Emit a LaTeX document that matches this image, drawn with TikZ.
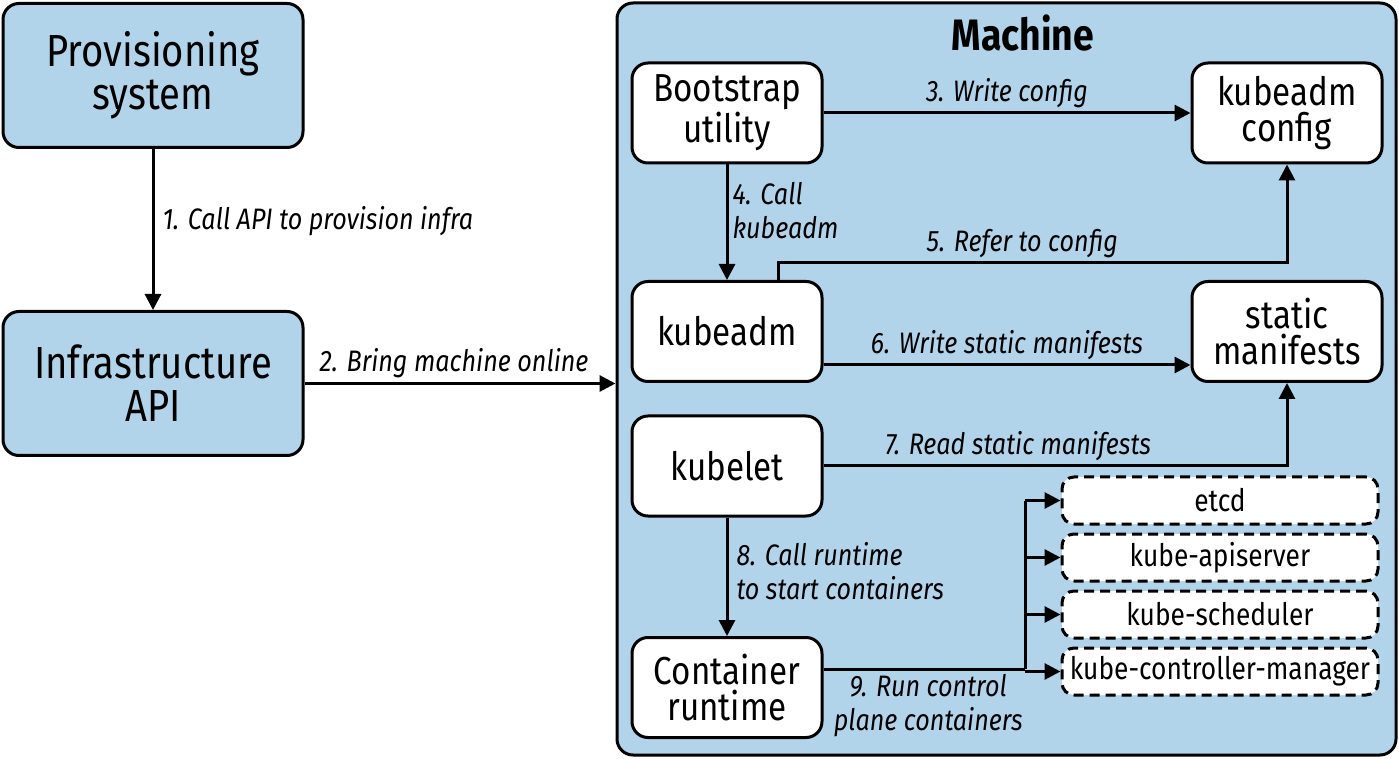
\documentclass[tikz,border=0pt]{standalone}
\usepackage{fontspec}
\setmainfont{Fira Sans}[FakeStretch=0.85]
\usepackage{xcolor}
\usepackage{tikz}
\usetikzlibrary{arrows.meta,positioning,calc}
\definecolor{mach}{HTML}{B2D4EA}
\definecolor{ink}{HTML}{000000}

\begin{document}
\begin{tikzpicture}[x=0.5pt,y=-0.5pt,
  box/.style={draw=ink,line width=1.5pt,rounded corners=8pt,align=center,inner sep=0pt},
  bigbox/.style={box,fill=mach,minimum width=150pt,minimum height=72pt,font=\fontsize{22.5}{21.5}\selectfont},
  midbox/.style={box,fill=white,minimum width=95pt,minimum height=50pt,font=\fontsize{19.5}{18}\selectfont},
  podbox/.style={box,fill=white,dashed,dash pattern=on 5pt off 3pt,rounded corners=6pt,
    minimum width=158pt,minimum height=23.5pt,font=\fontsize{15.5}{16}\selectfont},
  conn/.style={draw=ink,line width=1.5pt},
  arr/.style={conn,-{Triangle[length=8pt,width=8pt]}},
  lbl/.style={font=\itshape\fontsize{14.8}{17}\selectfont,align=left,inner sep=2pt}]
\useasboundingbox (0,0) rectangle (1399,759);
% LEFT
\node[bigbox] (prov) at (153,75.5) {Provisioning\\system};
\node[bigbox] (infra) at (153,383.5) {Infrastructure\\API};
% MACHINE
\node[box,fill=mach,minimum width=389.5pt,minimum height=376pt] (machine) at (1006.5,379) {};
\node[font=\bfseries\fontsize{22}{22}\selectfont] (mtitle) at (1023,33) {Machine};
\node[midbox] (boot) at (727,113) {Bootstrap\\utility};
\node[midbox] (cfg) at (1287,113) {kubeadm\\config};
\node[midbox] (kadm) at (727,331.5) {kubeadm};
\node[midbox] (manif) at (1287,331.5) {static\\manifests};
\node[midbox] (kubelet) at (727,466) {kubelet};
\node[midbox] (runtime) at (727,687.5) {Container\\runtime};
\foreach \nm/\txt/\yy in {etcd/etcd/500.5, apis/kube-apiserver/557.5,
    sched/kube-scheduler/614.5, ccm/kube-controller-manager/671.5}{
  \node[podbox] (\nm) at (1220,\yy) {\txt};
}
% STEPS
\draw[arr] (prov) -- node[lbl,anchor=west,xshift=2pt,yshift=4pt] {1. Call API to provision infra} (infra);
\draw[arr] (infra.east) -- node[lbl,above,xshift=-3pt] {2. Bring machine online} (machine.west |- infra.east);
\draw[arr] (boot) -- node[lbl,above] {3. Write config} (cfg);
\draw[arr] (boot) -- node[lbl,anchor=west,yshift=6pt] {4. Call\\kubeadm} (kadm);
\draw[arr] ([xshift=25.5pt]kadm.north) -- ++(0,-17) -| node[lbl,above,pos=0.24] {5. Refer to config} (cfg.south);
\draw[arr] ([yshift=-16.75pt]kadm.east) -- node[lbl,above] {6. Write static manifests} ([yshift=-16.75pt]manif.west);
\draw[arr] (kubelet.east) -| node[lbl,above,pos=0.21] {7. Read static manifests} (manif.south);
\draw[arr] (kubelet) -- node[lbl,anchor=west,xshift=2pt,yshift=3pt] {8. Call runtime\\to start containers} (runtime);
% CONTROL PLANE
\coordinate (split) at (1025,669);
\draw[conn] ([yshift=9.25pt]runtime.east) coordinate (r9) -- node[lbl,below,align=center,xshift=2pt] {9. Run control\\plane containers} (r9 -| split);
\draw[conn] (split |- etcd.west) -- (split |- r9);
\foreach \nm in {etcd,apis,sched,ccm}{ \draw[arr] (split |- \nm.west) -- (\nm.west); }
\end{tikzpicture}
\end{document}
